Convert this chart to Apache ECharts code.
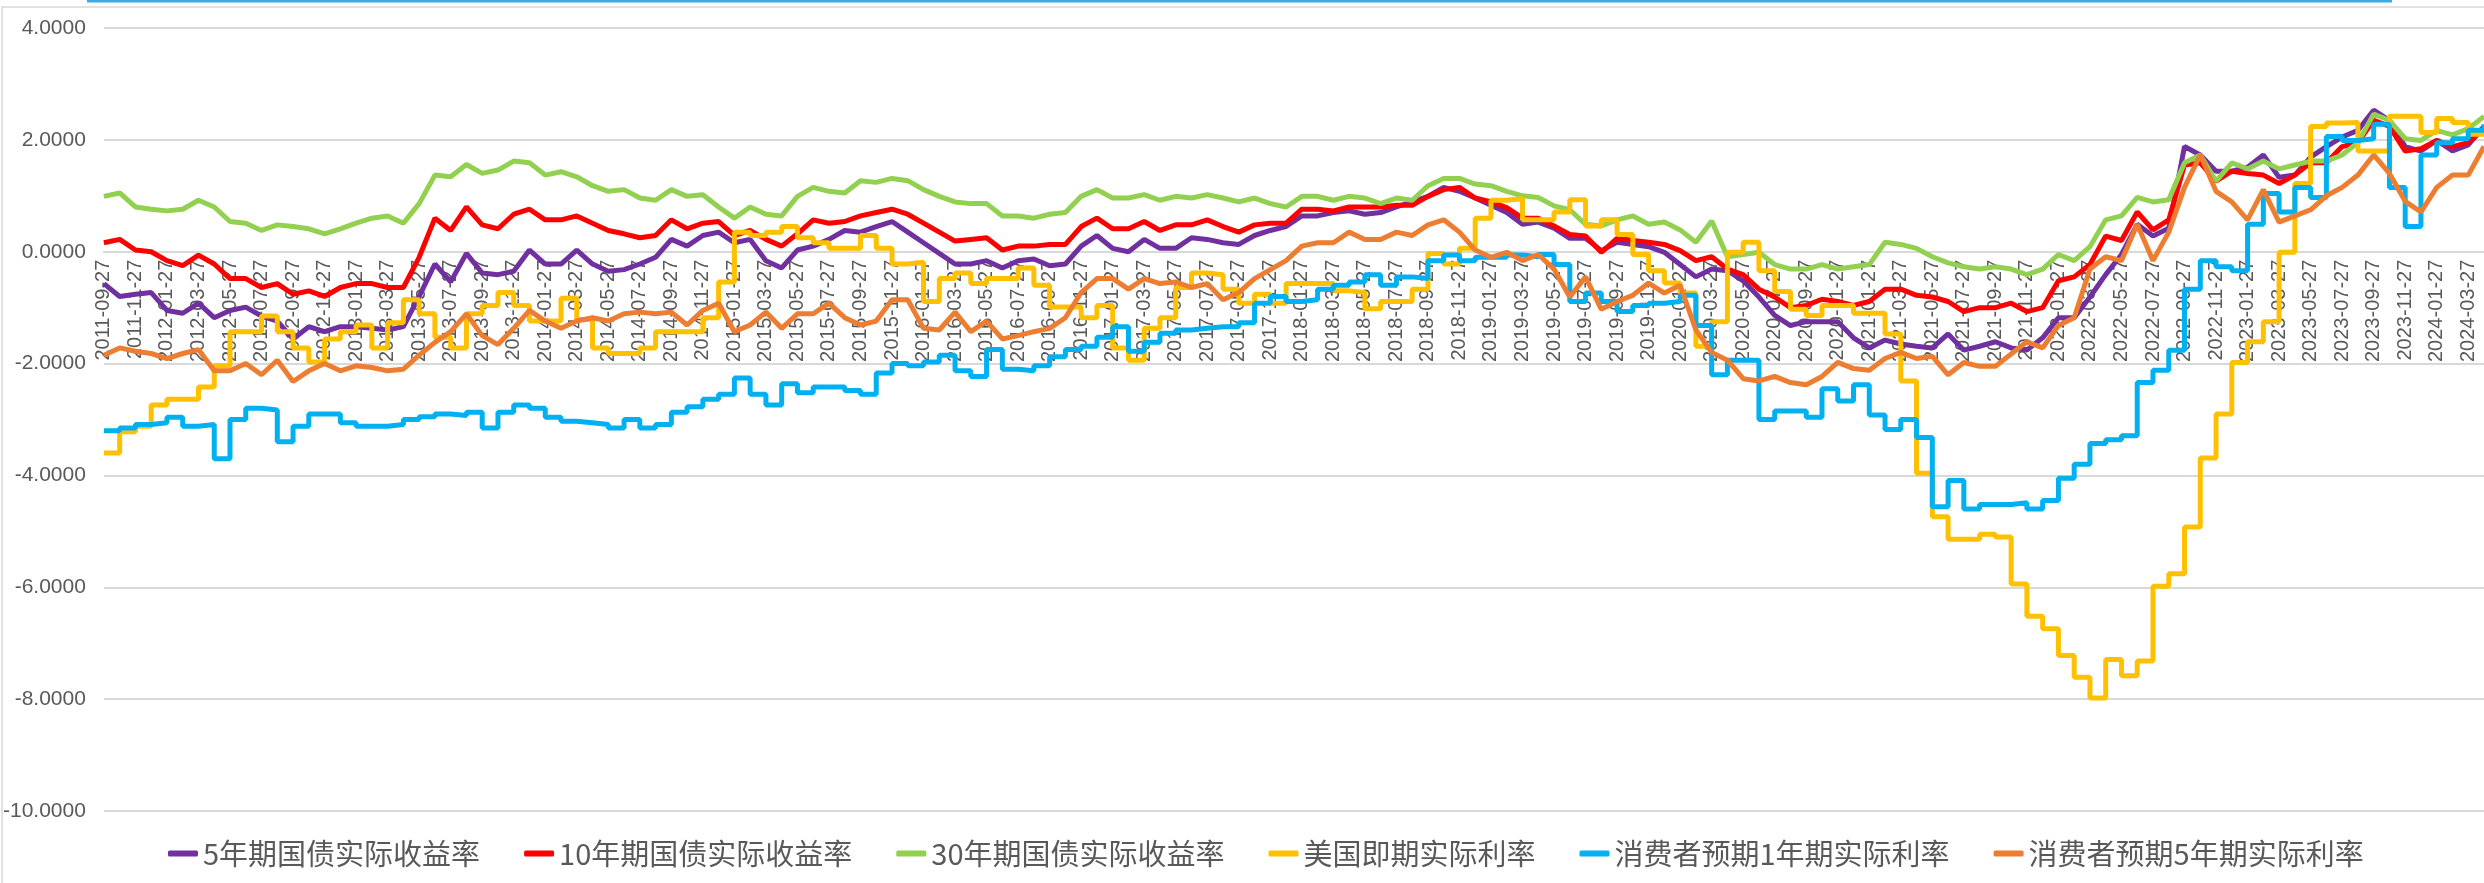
<!DOCTYPE html>
<html lang="zh">
<head>
    <meta charset="UTF-8">
    <script src="https://cdn.jsdelivr.net/npm/echarts@6/dist/echarts.min.js"></script>
    <title>实际利率</title>
    <style>html, body { margin: 0; padding: 0; background: #fff; }</style>
</head>
<body>

<div id="chart" style="width: 2484px;height: 883px"></div>

<script type="text/javascript">
    // 月度日期 2011-09-27 ~ 2024-04-27
    var dates = []
    for (var y = 2011, m = 9; y < 2024 || (y == 2024 && m <= 4);) {
        dates.push(y + '-' + (m < 10 ? '0' + m : m) + '-27')
        m++
        if (m > 12) { m = 1; y++ }
    }

    var seriesNames = ['5年期国债实际收益率', '10年期国债实际收益率', '30年期国债实际收益率',
        '美国即期实际利率', '消费者预期1年期实际利率', '消费者预期5年期实际利率']

    var cn5y = [
        -0.57, -0.8, -0.76, -0.73,
        -1.05, -1.1, -0.92, -1.18, -1.05, -0.99, -1.15, -1.24, -1.56, -1.34, -1.43, -1.34,
        -1.34, -1.37, -1.4, -1.34, -0.8, -0.22, -0.54, -0.03, -0.38, -0.41, -0.35, 0.03,
        -0.22, -0.22, 0.03, -0.22, -0.35, -0.32, -0.22, -0.1, 0.22, 0.1, 0.29, 0.35,
        0.16, 0.22, -0.16, -0.29, 0.03, 0.1, 0.22, 0.38, 0.35, 0.45, 0.54, 0.35,
        0.16, -0.03, -0.22, -0.22, -0.16, -0.29, -0.16, -0.13, -0.25, -0.22, 0.1, 0.29,
        0.06, 0, 0.22, 0.06, 0.06, 0.25, 0.22, 0.16, 0.13, 0.29, 0.38, 0.45,
        0.64, 0.64, 0.7, 0.73, 0.67, 0.7, 0.8, 0.89, 0.99, 1.15, 1.08, 0.96,
        0.83, 0.7, 0.49, 0.53, 0.42, 0.24, 0.24, 0.02, 0.17, 0.13, 0.09, -0.01,
        -0.23, -0.45, -0.31, -0.34, -0.52, -0.81, -1.14, -1.32, -1.25, -1.25, -1.25, -1.54,
        -1.72, -1.58, -1.65, -1.69, -1.72, -1.47, -1.76, -1.69, -1.61, -1.72, -1.76, -1.54,
        -1.18, -1.18, -0.81, -0.41, -0.05, 0.49, 0.28, 0.42, 1.88, 1.73, 1.44, 1.44,
        1.51, 1.73, 1.33, 1.37, 1.69, 1.88, 2.05, 2.17, 2.53, 2.35, 1.88, 1.8,
        1.99, 1.8, 1.91, 2.24
    ]

    var cn10y = [
        0.16, 0.22, 0.03, 0,
        -0.16, -0.25, -0.06, -0.22, -0.48, -0.48, -0.64, -0.57, -0.76, -0.7, -0.8, -0.64,
        -0.57, -0.57, -0.64, -0.64, -0.1, 0.6, 0.38, 0.8, 0.48, 0.41, 0.67, 0.76,
        0.57, 0.57, 0.64, 0.51, 0.38, 0.32, 0.25, 0.29, 0.57, 0.41, 0.51, 0.54,
        0.29, 0.38, 0.22, 0.1, 0.32, 0.57, 0.51, 0.54, 0.64, 0.7, 0.76, 0.67,
        0.51, 0.35, 0.19, 0.22, 0.25, 0.03, 0.1, 0.1, 0.13, 0.13, 0.45, 0.6,
        0.41, 0.41, 0.54, 0.38, 0.48, 0.48, 0.57, 0.45, 0.35, 0.48, 0.51, 0.51,
        0.76, 0.76, 0.73, 0.8, 0.8, 0.8, 0.83, 0.83, 0.99, 1.11, 1.15, 0.96,
        0.89, 0.79, 0.6, 0.6, 0.46, 0.31, 0.28, -0.01, 0.24, 0.2, 0.17, 0.13,
        0.02, -0.16, -0.09, -0.31, -0.41, -0.67, -0.81, -1.0, -0.96, -0.85, -0.89, -0.96,
        -0.89, -0.67, -0.67, -0.78, -0.81, -0.89, -1.07, -1.0, -1.0, -0.92, -1.07, -1.0,
        -0.52, -0.45, -0.23, 0.28, 0.2, 0.71, 0.39, 0.57, 1.55, 1.59, 1.26, 1.44,
        1.4, 1.37, 1.22, 1.37, 1.59, 1.59, 1.88, 1.95, 2.35, 2.24, 1.8, 1.84,
        1.99, 1.88, 1.95, 2.2
    ]

    var cn30y = [
        0.99, 1.05, 0.8, 0.76,
        0.73, 0.76, 0.92, 0.8, 0.54, 0.51, 0.38, 0.48, 0.45, 0.41, 0.32, 0.41,
        0.51, 0.6, 0.64, 0.51, 0.86, 1.37, 1.34, 1.56, 1.4, 1.46, 1.62, 1.59,
        1.37, 1.43, 1.34, 1.18, 1.08, 1.11, 0.96, 0.92, 1.11, 0.99, 1.02, 0.8,
        0.6, 0.8, 0.67, 0.64, 0.99, 1.15, 1.08, 1.05, 1.27, 1.24, 1.31, 1.27,
        1.11, 0.99, 0.89, 0.86, 0.86, 0.64, 0.64, 0.6, 0.67, 0.7, 0.99, 1.11,
        0.96, 0.96, 1.02, 0.92, 0.99, 0.96, 1.02, 0.96, 0.89, 0.96, 0.86, 0.8,
        0.99, 0.99, 0.92, 0.99, 0.96, 0.86, 0.96, 0.92, 1.18, 1.31, 1.31, 1.21,
        1.18, 1.08, 1.0, 0.97, 0.82, 0.75, 0.49, 0.46, 0.57, 0.64, 0.49, 0.53,
        0.39, 0.17, 0.55, -0.09, -0.05, -0.01, -0.23, -0.31, -0.31, -0.23, -0.31, -0.27,
        -0.23, 0.17, 0.13, 0.06, -0.09, -0.2, -0.27, -0.31, -0.27, -0.31, -0.41, -0.31,
        -0.05, -0.16, 0.09, 0.57, 0.64, 0.97, 0.89, 0.93, 1.59, 1.73, 1.26, 1.59,
        1.48, 1.62, 1.48, 1.55, 1.62, 1.62, 1.73, 1.95, 2.46, 2.35, 2.02, 1.99,
        2.17, 2.09, 2.2, 2.42
    ]

    var usReal = [
        -3.6, -3.22, -3.12, -2.74,
        -2.64, -2.64, -2.42, -2.04, -1.43, -1.43, -1.15, -1.43, -1.72, -1.97, -1.56, -1.43,
        -1.31, -1.72, -1.27, -0.86, -1.11, -1.53, -1.72, -1.11, -0.96, -0.73, -0.96, -1.24,
        -1.24, -0.83, -1.21, -1.72, -1.82, -1.82, -1.72, -1.43, -1.43, -1.43, -1.18, -0.54,
        0.35, 0.29, 0.35, 0.45, 0.25, 0.16, 0.06, 0.06, 0.29, 0.06, -0.22, -0.19,
        -0.89, -0.48, -0.38, -0.57, -0.48, -0.48, -0.29, -0.6, -0.99, -0.99, -1.18, -0.96,
        -1.72, -1.94, -1.37, -1.18, -0.64, -0.38, -0.41, -0.67, -0.92, -0.76, -0.92, -0.57,
        -0.57, -0.57, -0.7, -0.73, -1.02, -0.89, -0.89, -0.67, -0.03, -0.22, 0.06, 0.6,
        0.92, 0.95, 0.57, 0.57, 0.71, 0.93, 0.46, 0.57, 0.31, -0.05, -0.34, -0.56,
        -0.74, -1.69, -1.25, -0.01, 0.17, -0.34, -0.71, -1.03, -1.14, -0.96, -0.96, -1.1,
        -1.1, -1.47, -2.31, -3.96, -4.74, -5.14, -5.14, -5.05, -5.1, -5.94, -6.52, -6.74,
        -7.22, -7.61, -7.98, -7.29, -7.58, -7.32, -5.98, -5.76, -4.92, -3.69, -2.9, -1.98,
        -1.61, -1.25, -0.01, 1.22, 2.24, 2.3, 2.31, 1.8, 1.8, 2.42, 2.42, 2.13,
        2.38, 2.31, 2.1, 2.1
    ]

    var cpi1y = [
        -3.2, -3.15, -3.09, -3.06,
        -2.96, -3.12, -3.09, -3.7, -3.0, -2.8, -2.83, -3.4, -3.12, -2.9, -2.9, -3.06,
        -3.12, -3.12, -3.09, -3.0, -2.95, -2.9, -2.93, -2.87, -3.15, -2.87, -2.74, -2.8,
        -2.96, -3.03, -3.06, -3.09, -3.15, -3.0, -3.15, -3.09, -2.87, -2.77, -2.64, -2.55,
        -2.26, -2.55, -2.74, -2.36, -2.52, -2.42, -2.42, -2.48, -2.55, -2.17, -2.0, -2.04,
        -1.97, -1.85, -2.13, -2.23, -1.75, -2.1, -2.13, -2.04, -1.88, -1.75, -1.69, -1.53,
        -1.34, -1.78, -1.62, -1.46, -1.4, -1.37, -1.34, -1.34, -1.27, -0.92, -0.8, -0.89,
        -0.86, -0.67, -0.6, -0.54, -0.41, -0.6, -0.45, -0.48, -0.16, -0.06, -0.16, -0.1,
        -0.1, -0.06, -0.09, -0.05, -0.23, -0.89, -0.74, -0.89, -1.07, -0.96, -0.92, -0.89,
        -0.78, -1.32, -2.2, -1.94, -1.94, -3.0, -2.85, -2.85, -2.96, -2.45, -2.67, -2.38,
        -2.92, -3.18, -3.0, -3.32, -4.56, -4.09, -4.6, -4.52, -4.52, -4.49, -4.6, -4.45,
        -4.05, -3.8, -3.43, -3.36, -3.29, -2.34, -2.12, -1.76, -0.67, -0.16, -0.27, -0.34,
        0.49, 1.04, 0.71, 1.15, 0.97, 2.06, 1.99, 2.02, 2.28, 1.15, 0.45, 1.73,
        1.95, 2.02, 2.17, 2.28
    ]

    var cpi5y = [
        -1.85, -1.72, -1.78, -1.82,
        -1.91, -1.82, -1.75, -2.13, -2.13, -2.0, -2.2, -1.94, -2.32, -2.13, -2.0, -2.13,
        -2.04, -2.07, -2.13, -2.1, -1.85, -1.62, -1.43, -1.11, -1.5, -1.66, -1.37, -1.05,
        -1.24, -1.37, -1.24, -1.18, -1.24, -1.11, -1.08, -1.11, -1.08, -1.31, -1.05, -0.92,
        -1.43, -1.31, -1.08, -1.37, -1.11, -1.11, -0.92, -1.18, -1.31, -1.24, -0.86, -0.86,
        -1.37, -1.4, -1.08, -1.43, -1.24, -1.56, -1.5, -1.43, -1.37, -1.18, -0.73, -0.48,
        -0.48, -0.67, -0.48, -0.57, -0.54, -0.64, -0.57, -0.86, -0.73, -0.48, -0.32, -0.16,
        0.1, 0.16, 0.16, 0.35, 0.22, 0.22, 0.35, 0.29, 0.48, 0.57, 0.35, 0.03,
        -0.1, -0.01, -0.16, -0.05, -0.31, -0.81, -0.45, -1.03, -0.89, -0.78, -0.56, -0.74,
        -0.6, -1.4, -1.8, -1.94, -2.27, -2.31, -2.23, -2.34, -2.38, -2.23, -1.98, -2.09,
        -2.12, -1.91, -1.8, -1.91, -1.87, -2.2, -1.98, -2.05, -2.05, -1.83, -1.61, -1.72,
        -1.32, -1.18, -0.31, -0.09, -0.16, 0.49, -0.16, 0.35, 1.15, 1.73, 1.08, 0.89,
        0.57, 1.11, 0.53, 0.64, 0.75, 1.0, 1.15, 1.37, 1.73, 1.4, 0.9, 0.71,
        1.15, 1.37, 1.37, 1.88
    ]

    var colors = ['#7030a0', '#ff0000', '#92d050', '#ffc000', '#00b0f0', '#ed7d31']
    var valueLists = [cn5y, cn10y, cn30y, usReal, cpi1y, cpi5y]
    var stepSeries = [false, false, false, 'end', 'end', false]

    var series = []
    for (var i = 0; i < seriesNames.length; i++) {
        series.push({
            name: seriesNames[i],
            type: 'line',
            data: valueLists[i],
            step: stepSeries[i],
            symbol: 'none',
            lineStyle: { width: 5, color: colors[i] },
            itemStyle: { color: colors[i] }
        })
    }

    // 绘图区: top 28, bottom 72 -> 高度 783, 0 轴在 -10..4 的 10/14 处
    var gridTop = 28, gridBottom = 72
    var plotH = 883 - gridTop - gridBottom
    var zeroOffset = -plotH * 10 / 14

    var myChart = echarts.init(document.getElementById('chart'));
    var option = {
        animation: false,
        backgroundColor: '#ffffff',
        color: colors,
        grid: {
            left: 97,
            right: 0,
            top: gridTop,
            bottom: gridBottom
        },
        legend: {
            bottom: 10,
            left: 163,
            icon: 'roundRect',
            itemWidth: 30,
            itemHeight: 6,
            itemGap: 44,
            textStyle: {
                fontSize: 29,
                color: '#595959',
                fontFamily: 'Noto Sans CJK SC'
            },
            data: seriesNames
        },
        xAxis: {
            type: 'category',
            data: dates,
            boundaryGap: false,
            offset: zeroOffset,
            axisLine: { onZero: false, lineStyle: { color: '#d9d9d9', width: 2 } },
            axisTick: { show: false },
            axisLabel: {
                interval: 1,
                rotate: 90,
                margin: 8,
                fontSize: 20,
                color: '#595959',
                fontFamily: 'Liberation Sans'
            }
        },
        yAxis: {
            type: 'value',
            min: -10,
            max: 4,
            interval: 2,
            axisLine: { show: false },
            axisTick: { show: false },
            splitLine: { lineStyle: { color: '#d9d9d9', width: 2 } },
            axisLabel: {
                margin: 18,
                fontSize: 21,
                color: '#595959',
                fontFamily: 'Liberation Sans',
                formatter: function (v) { return v.toFixed(4) }
            }
        },
        graphic: [
            {
                type: 'rect',
                silent: true,
                shape: { x: 2, y: 7, width: 2520, height: 920 },
                style: { fill: 'none', stroke: '#d9d9d9', lineWidth: 1.5 }
            },
            {
                type: 'line',
                silent: true,
                shape: { x1: 87, y1: 1, x2: 2392, y2: 1 },
                style: { stroke: '#41a9e1', lineWidth: 3 }
            }
        ],
        series: series
    };
    myChart.setOption(option);
</script>
</body>
</html>
